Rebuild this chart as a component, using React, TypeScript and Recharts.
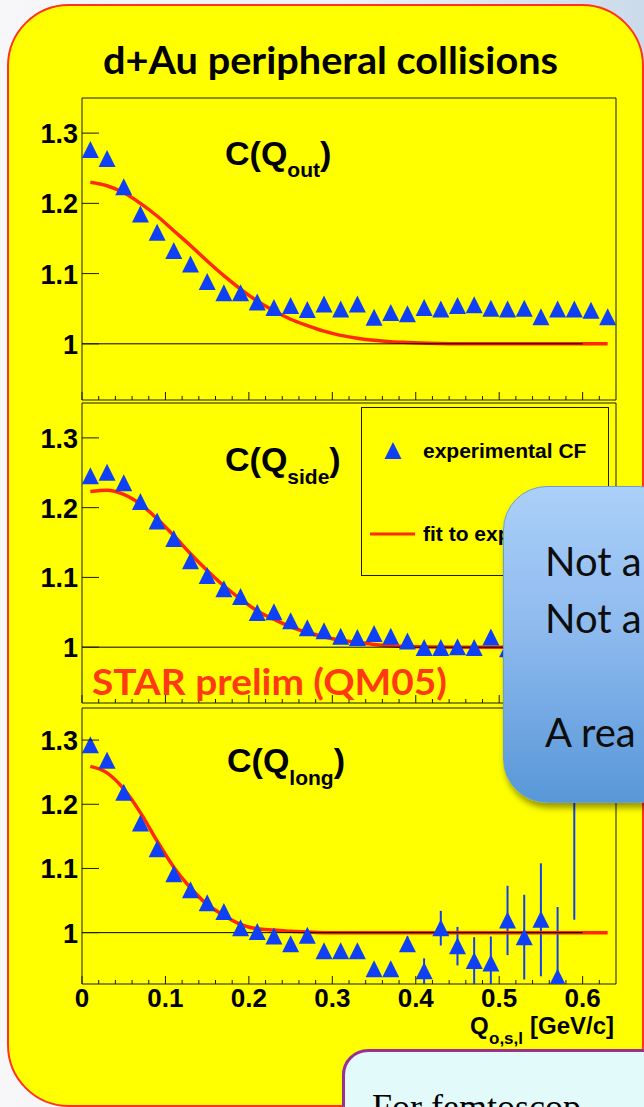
import React from 'react';
import {
  ComposedChart,
  Scatter,
  Line,
  XAxis,
  YAxis,
  ReferenceLine,
  ReferenceArea,
  ErrorBar,
  Legend,
} from 'recharts';

// bin centres in Q (GeV/c)
const qBins = [
  0.01, 0.03, 0.05, 0.07, 0.09, 0.11, 0.13, 0.15, 0.17, 0.19, 0.21, 0.23, 0.25, 0.27, 0.29, 0.31,
  0.33, 0.35, 0.37, 0.39, 0.41, 0.43, 0.45, 0.47, 0.49, 0.51, 0.53, 0.55, 0.57, 0.59, 0.61, 0.63,
];

// measured correlation functions
const cOut = [
  1.276, 1.263, 1.223, 1.184, 1.158, 1.132, 1.113, 1.088, 1.072, 1.072, 1.059, 1.051, 1.054, 1.048, 1.056, 1.049,
  1.056, 1.037, 1.044, 1.042, 1.051, 1.049, 1.054, 1.055, 1.05, 1.049, 1.05, 1.038, 1.049, 1.049, 1.047, 1.038,
];
const cSide = [
  1.245, 1.25, 1.235, 1.208, 1.18, 1.155, 1.123, 1.102, 1.083, 1.072, 1.049, 1.05, 1.037, 1.027, 1.023, 1.015,
  1.013, 1.019, 1.015, 1.008, 0.999, 0.999, 1.0, 0.999, 1.014, 0.997,
];
const cLong = [
  1.292, 1.268, 1.218, 1.17, 1.13, 1.091, 1.066, 1.046, 1.032, 1.007, 1.001, 0.994, 0.982, 0.995, 0.971, 0.971,
  0.971, 0.943, 0.943, 0.982, 0.94, 1.007, 0.979, 0.956, 0.952, 1.019, 0.993, 1.02, 0.93, 1.3,
];
const errLong = [
  0.004, 0.004, 0.004, 0.004, 0.004, 0.004, 0.004, 0.004, 0.005, 0.005, 0.005, 0.006, 0.006, 0.007, 0.008, 0.009,
  0.009, 0.01, 0.01, 0.012, 0.02, 0.027, 0.03, 0.037, 0.042, 0.054, 0.066, 0.088, 0.11, 0.28,
];

// fit curves
const fitQ = [
  0.01, 0.03, 0.05, 0.07, 0.09, 0.11, 0.13, 0.15, 0.17, 0.19, 0.21, 0.23, 0.25, 0.27, 0.29, 0.31,
  0.33, 0.35, 0.37, 0.39, 0.45, 0.51, 0.57, 0.63,
];
const fitOut = [
  1.23, 1.225, 1.215, 1.2, 1.182, 1.161, 1.14, 1.118, 1.097, 1.078, 1.061, 1.047, 1.035, 1.026, 1.018, 1.012,
  1.008, 1.005, 1.003, 1.002, 1.0, 1.0, 1.0, 1.0,
];
const fitSide = [
  1.223, 1.225, 1.219, 1.205, 1.184, 1.16, 1.134, 1.11, 1.088, 1.069, 1.052, 1.04, 1.029, 1.021, 1.015, 1.01,
  1.007, 1.004, 1.002, 1.001, 1.0, 1.0, 1.0, 1.0,
];
const fitLong = [
  1.259, 1.249, 1.224, 1.187, 1.143, 1.102, 1.07, 1.044, 1.027, 1.013, 1.006, 1.004, 1.002, 1.001, 1.0, 1.0,
  1.0, 1.0, 1.0, 1.0, 1.0, 1.0, 1.0, 1.0,
];

const qTicks = [
  0, 0.02, 0.04, 0.06, 0.08, 0.1, 0.12, 0.14, 0.16, 0.18, 0.2, 0.22, 0.24, 0.26, 0.28, 0.3,
  0.32, 0.34, 0.36, 0.38, 0.4, 0.42, 0.44, 0.46, 0.48, 0.5, 0.52, 0.54, 0.56, 0.58, 0.6, 0.62,
];
const cTicks = [1, 1.1, 1.2, 1.3];

const BLUE = '#1040f5';
const RED = '#ff2a00';
const FRAME = '#1c1c00';
const ROOT_FONT = '"Liberation Sans", Arial, sans-serif';

const points = (vals: number[], errs?: number[]) =>
  vals.map((c, i) => ({ q: qBins[i], c, err: errs ? errs[i] : 0 }));
const fitPoints = (vals: number[]) => vals.map((c, i) => ({ q: fitQ[i], c }));

const Triangle = (props: any) => {
  const { cx, cy } = props;
  if (cx == null || cy == null) return null;
  return <polygon points={`${cx},${cy - 9} ${cx - 8.5},${cy + 8} ${cx + 8.5},${cy + 8}`} fill={BLUE} />;
};

// ticks point inward, like the ROOT frame
const QTick = (props: any) => {
  const { x, y, payload, showLabel } = props;
  const v = payload.value as number;
  const major = Math.abs(v * 10 - Math.round(v * 10)) < 1e-6;
  return (
    <g>
      <line x1={x} x2={x} y1={y} y2={y - (major ? 8 : 4)} stroke={FRAME} strokeWidth={1} />
      {showLabel && major && (
        <text x={x} y={y + 23} textAnchor="middle" fontFamily={ROOT_FONT} fontWeight="bold" fontSize={26} fill="#000">
          {v}
        </text>
      )}
    </g>
  );
};

const CTick = (props: any) => {
  const { x, y, payload } = props;
  return (
    <g>
      <line x1={x} x2={x + 17} y1={y} y2={y} stroke={FRAME} strokeWidth={1} />
      <text x={x - 4} y={y} dy={10} textAnchor="end" fontFamily={ROOT_FONT} fontWeight="bold" fontSize={27} fill="#000">
        {payload.value}
      </text>
    </g>
  );
};

const LegendBox = (props: any) => {
  const payload = props.payload || [];
  return (
    <div style={{ width: 246, height: 167, border: `1px solid ${FRAME}`, position: 'relative', fontFamily: ROOT_FONT }}>
      {payload.map((entry: any, i: number) => (
        <div
          key={entry.value}
          style={{ position: 'absolute', left: 0, top: i === 0 ? 29 : 112, height: 28, width: 246, display: 'flex', alignItems: 'center' }}
        >
          <svg width={60} height={28} style={{ flex: 'none' }}>
            {entry.type === 'line' ? (
              <line x1={8} x2={53} y1={14} y2={14} stroke={RED} strokeWidth={3} />
            ) : (
              <polygon points="31,5 22.5,22 39.5,22" fill={BLUE} />
            )}
          </svg>
          <span style={{ fontWeight: 'bold', fontSize: 21, marginLeft: 1, whiteSpace: 'nowrap', color: '#000' }}>{entry.value}</span>
        </div>
      ))}
    </div>
  );
};

type PanelProps = {
  top: number;
  height: number;
  bottomPad: number;
  data: { q: number; c: number; err: number }[];
  fit: { q: number; c: number }[];
  className?: string;
  withErrors?: boolean;
  withLabels?: boolean;
  withLegend?: boolean;
};

function Panel({ top, height, bottomPad, data, fit, className, withErrors, withLabels, withLegend }: PanelProps) {
  return (
    <div className={className} style={{ position: 'absolute', left: 0, top }}>
      <ComposedChart width={644} height={height} margin={{ top: 5, right: 28, bottom: bottomPad, left: 81 }}>
        <XAxis
          type="number"
          dataKey="q"
          domain={[0, 0.64]}
          ticks={qTicks}
          interval={0}
          allowDataOverflow
          axisLine={false}
          tickLine={false}
          tickSize={0}
          tickMargin={0}
          height={1}
          tick={(p: any) => <QTick {...p} showLabel={withLabels} />}
        />
        <YAxis
          type="number"
          domain={[0.92, 1.35]}
          ticks={cTicks}
          interval={0}
          allowDataOverflow
          axisLine={false}
          tickLine={false}
          tickSize={0}
          tickMargin={0}
          width={1}
          tick={(p: any) => <CTick {...p} />}
        />
        <ReferenceArea x1={0} x2={0.64} y1={0.92} y2={1.35} fill="none" stroke={FRAME} strokeWidth={1} />
        <Scatter
          name="experimental CF"
          data={data}
          dataKey="c"
          legendType="triangle"
          fill={BLUE}
          shape={(p: any) => <Triangle {...p} />}
          isAnimationActive={false}
        >
          {withErrors && <ErrorBar dataKey="err" direction="y" width={0} stroke={BLUE} strokeWidth={2} />}
        </Scatter>
        <Line
          name="fit to exp."
          data={fit}
          dataKey="c"
          type="monotone"
          stroke={RED}
          strokeWidth={3.5}
          dot={false}
          legendType="line"
          isAnimationActive={false}
        />
        <ReferenceLine segment={[{ x: 0, y: 1 }, { x: 0.6, y: 1 }]} stroke="#000" strokeWidth={1} />
        {withLegend && (
          <Legend
            layout="vertical"
            align="center"
            verticalAlign="middle"
            wrapperStyle={{ left: 361, top: 9, width: 248, height: 169 }}
            content={(p: any) => <LegendBox {...p} />}
          />
        )}
      </ComposedChart>
    </div>
  );
}

const PanelTitle = ({ x, y, sub, subDy }: { x: number; y: number; sub: string; subDy: number }) => (
  <text x={x} y={y} fontFamily={ROOT_FONT} fontWeight="bold" fontSize={34} fill="#000">
    C(Q
    <tspan fontSize={21} dy={subDy}>
      {sub}
    </tspan>
    <tspan fontSize={34} dy={-subDy}>
      )
    </tspan>
  </text>
);

export default function App() {
  return (
    <div
      style={{
        position: 'absolute',
        left: 0,
        top: 0,
        width: 644,
        height: 1107,
        overflow: 'hidden',
        background: 'linear-gradient(90deg, #f7f7f9 0%, #eef1f5 55%, #cbdaea 100%)',
      }}
    >
      <style>{'.long-panel .recharts-errorBars, .long-panel .recharts-errorBar { clip-path: url(#longClip); }'}</style>
      <svg width={0} height={0} style={{ position: 'absolute' }}>
        <defs>
          <clipPath id="longClip" clipPathUnits="userSpaceOnUse">
            <rect x={82} y={5} width={534} height={276} />
          </clipPath>
        </defs>
      </svg>

      <div
        style={{
          position: 'absolute',
          left: 7,
          top: 4,
          width: 637,
          height: 1103,
          boxSizing: 'border-box',
          border: '2px solid #ff3322',
          borderRadius: 62,
          background: '#ffff00',
        }}
      />

      <Panel top={93} height={312} bottomPad={4} data={points(cOut)} fit={fitPoints(fitOut)} />
      <Panel top={398} height={310} bottomPad={4} data={points(cSide)} fit={fitPoints(fitSide)} withLegend />
      <Panel
        top={703}
        height={316}
        bottomPad={34}
        className="long-panel"
        data={points(cLong, errLong)}
        fit={fitPoints(fitLong)}
        withErrors
        withLabels
      />

      <svg width={644} height={1107} style={{ position: 'absolute', left: 0, top: 0, pointerEvents: 'none' }}>
        <text
          x={103}
          y={74}
          fontFamily="Lato, sans-serif"
          fontWeight="bold"
          fontSize={38}
          textLength={455}
          lengthAdjust="spacingAndGlyphs"
          fill="#000"
        >
          d+Au peripheral collisions
        </text>
        <PanelTitle x={225} y={165} sub="out" subDy={12} />
        <PanelTitle x={225} y={471} sub="side" subDy={13} />
        <PanelTitle x={227} y={772} sub="long" subDy={13} />
        <text x={470} y={1034} fontFamily={ROOT_FONT} fontWeight="bold" fontSize={24} fill="#000">
          Q
        </text>
        <text x={489} y={1044} fontFamily={ROOT_FONT} fontWeight="bold" fontSize={17} fill="#000">
          o,s,l
        </text>
        <text x={530} y={1034} fontFamily={ROOT_FONT} fontWeight="bold" fontSize={24} fill="#000">
          [GeV/c]
        </text>
        <text
          x={92}
          y={695}
          fontFamily="Lato, sans-serif"
          fontWeight="bold"
          fontSize={37}
          textLength={355}
          lengthAdjust="spacingAndGlyphs"
          fill="#ff3a12"
        >
          STAR prelim (QM05)
        </text>
      </svg>

      <div
        style={{
          position: 'absolute',
          left: 503,
          top: 486,
          width: 180,
          height: 317,
          boxSizing: 'border-box',
          borderRadius: 44,
          border: '1px solid #6a9ed6',
          background: 'linear-gradient(180deg, #abd0f9 0%, #8ebaee 45%, #5897d8 100%)',
          boxShadow: '2px 5px 6px rgba(0,0,0,0.4)',
          fontFamily: 'Lato, sans-serif',
          fontSize: 40,
          lineHeight: '57px',
          color: '#0d0d0d',
          whiteSpace: 'nowrap',
        }}
      >
        <div style={{ position: 'absolute', left: 41, top: 46 }}>
          <div>Not a</div>
          <div>Not a</div>
          <div>&nbsp;</div>
          <div>A rea</div>
        </div>
      </div>

      <div
        style={{
          position: 'absolute',
          left: 342,
          top: 1049,
          width: 330,
          height: 100,
          boxSizing: 'border-box',
          borderRadius: 26,
          border: '3px solid #9a2f95',
          background: '#e2fbfa',
        }}
      >
        <div
          style={{
            position: 'absolute',
            left: 27,
            top: 35,
            fontFamily: '"Liberation Serif", serif',
            fontSize: 36,
            lineHeight: '40px',
            whiteSpace: 'nowrap',
            color: '#000',
          }}
        >
          For femtoscop
        </div>
      </div>
    </div>
  );
}
